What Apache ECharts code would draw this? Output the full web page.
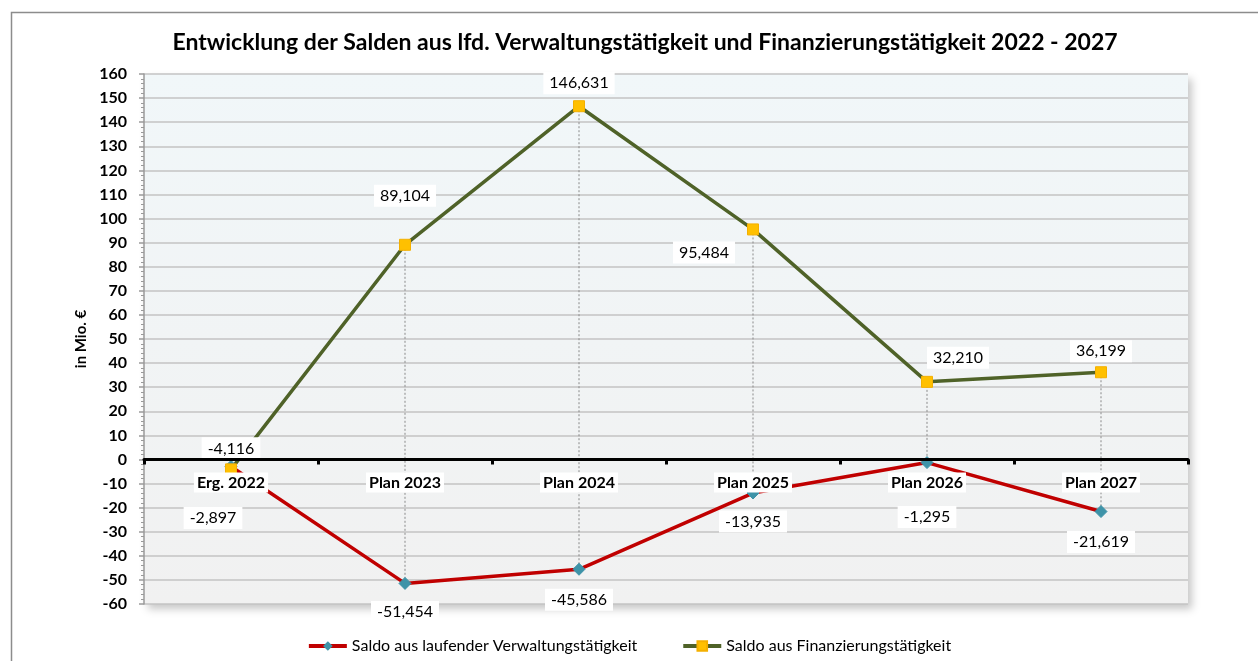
<!DOCTYPE html>
<html>
<head>
<meta charset="utf-8">
<script src="https://cdn.jsdelivr.net/npm/echarts@6/dist/echarts.min.js"></script>
<style>
  html, body { margin: 0; padding: 0; background: #fff; }
  #chart { width: 1258px; height: 661px; }
</style>
</head>
<body>
<div id="chart"></div>
<script>
const categories = ['Erg. 2022', 'Plan 2023', 'Plan 2024', 'Plan 2025', 'Plan 2026', 'Plan 2027'];
const verwaltung = [-2.897, -51.454, -45.586, -13.935, -1.295, -21.619];
const finanzierung = [-4.116, 89.104, 146.631, 95.484, 32.210, 36.199];
const seriesNames = ['Saldo aus laufender Verwaltungstätigkeit', 'Saldo aus Finanzierungstätigkeit'];
const yMin = -60;
const yMax = 160;

// label offsets (style only)
const verwOffsets = [[-18, 29], [0, 6], [0, 8], [0, 6], [0, 32], [0, 8]];
const finOffsets = [[0, 1], [0, -27], [0, -1], [-49, 45], [31, -2], [0, 1]];

const FONT = 'Lato';
const fmt = (v) => v.toFixed(3).replace('.', ',');

const GRID = { left: 144, right: 70, top: 74, bottom: 57 };
const plotH = 661 - GRID.top - GRID.bottom;
// move the category axis up to the zero line
const zeroOffset = -plotH * (0 - yMin) / (yMax - yMin);

const labelBox = {
  show: true,
  fontFamily: FONT,
  fontSize: 16,
  color: '#000',
  backgroundColor: '#fff',
  padding: [3, 6],
  formatter: (p) => fmt(p.value)
};

const chart = echarts.init(document.getElementById('chart'));

chart.setOption({
  animation: false,
  graphic: [{
    type: 'rect',
    left: 9, top: 10,
    shape: { width: 1262, height: 700 },
    style: { fill: 'none', stroke: '#8c8c8c', lineWidth: 1.5 },
    silent: true
  }],
  title: {
    text: 'Entwicklung der Salden aus lfd. Verwaltungstätigkeit und Finanzierungstätigkeit 2022 - 2027',
    left: 640, textAlign: 'center',
    top: 26,
    textStyle: { fontFamily: FONT, fontSize: 23, fontWeight: 'bold', color: '#000' }
  },
  legend: {
    top: 633,
    left: 'center',
    itemWidth: 38,
    itemHeight: 12,
    itemGap: 44,
    textStyle: { fontFamily: FONT, fontSize: 16, color: '#000' },
    lineStyle: { width: 4 },
    data: seriesNames
  },
  grid: Object.assign({
    show: true,
    borderWidth: 0,
    backgroundColor: new echarts.graphic.LinearGradient(0, 0, 0, 1, [
      { offset: 0, color: '#f1f7f9' },
      { offset: 1, color: '#f1f1f1' }
    ]),
    shadowColor: 'rgba(0,0,0,0.22)',
    shadowBlur: 8,
    shadowOffsetX: 4,
    shadowOffsetY: 5
  }, GRID),
  xAxis: {
    type: 'category',
    data: categories,
    boundaryGap: true,
    offset: zeroOffset,
    axisLine: { onZero: false, lineStyle: { color: '#000', width: 3 } },
    axisTick: { show: true, length: 5, lineStyle: { color: '#000', width: 3 } },
    axisLabel: {
      fontFamily: FONT, fontSize: 16, fontWeight: 'bold', color: '#000',
      backgroundColor: '#fff', padding: [2, 3], margin: 13
    },
    splitLine: { show: false },
    z: 5
  },
  yAxis: {
    type: 'value',
    min: yMin, max: yMax, interval: 10,
    name: 'in Mio. €',
    nameLocation: 'middle',
    nameGap: 50,
    nameRotate: 90,
    nameTextStyle: { fontFamily: FONT, fontSize: 15, fontWeight: 'bold', color: '#000' },
    axisLine: { show: true, lineStyle: { color: '#9a9a9a', width: 1.5 } },
    axisTick: { show: true, length: 5, lineStyle: { color: '#9a9a9a', width: 1.5 } },
    minorTick: { show: true, splitNumber: 5, length: 3, lineStyle: { color: '#9a9a9a' } },
    axisLabel: { fontFamily: FONT, fontSize: 16, fontWeight: 'bold', color: '#000', margin: 17 },
    splitLine: { show: true, lineStyle: { color: '#c3c3c3', width: 1.5 } }
  },
  series: [
    {
      name: 'hilo',
      type: 'custom',
      silent: true,
      z: 1,
      data: categories.map((c, i) => [i, Math.max(verwaltung[i], finanzierung[i]), Math.min(verwaltung[i], finanzierung[i])]),
      renderItem: (params, api) => {
        const a = api.coord([api.value(0), api.value(1)]);
        const b = api.coord([api.value(0), api.value(2)]);
        return {
          type: 'line',
          shape: { x1: a[0], y1: a[1], x2: b[0], y2: b[1] },
          style: { stroke: '#8a8a8a', lineWidth: 1, lineDash: [2, 2] }
        };
      }
    },
    {
      name: seriesNames[0],
      type: 'line',
      z: 3,
      data: verwaltung.map((v, i) => ({ value: v, label: { offset: verwOffsets[i] } })),
      symbol: 'diamond',
      symbolSize: 12,
      lineStyle: { color: '#c00000', width: 3.5 },
      itemStyle: { color: '#3e93a8', borderColor: '#3e93a8' },
      label: Object.assign({ position: 'bottom' }, labelBox)
    },
    {
      name: seriesNames[1],
      type: 'line',
      z: 3,
      data: finanzierung.map((v, i) => ({ value: v, label: { offset: finOffsets[i] } })),
      symbol: 'rect',
      symbolSize: 11,
      lineStyle: { color: '#4f6228', width: 3.5 },
      itemStyle: { color: '#ffc000', borderColor: '#f4b000', borderWidth: 1 },
      label: Object.assign({ position: 'top' }, labelBox)
    }
  ]
});
</script>
</body>
</html>
